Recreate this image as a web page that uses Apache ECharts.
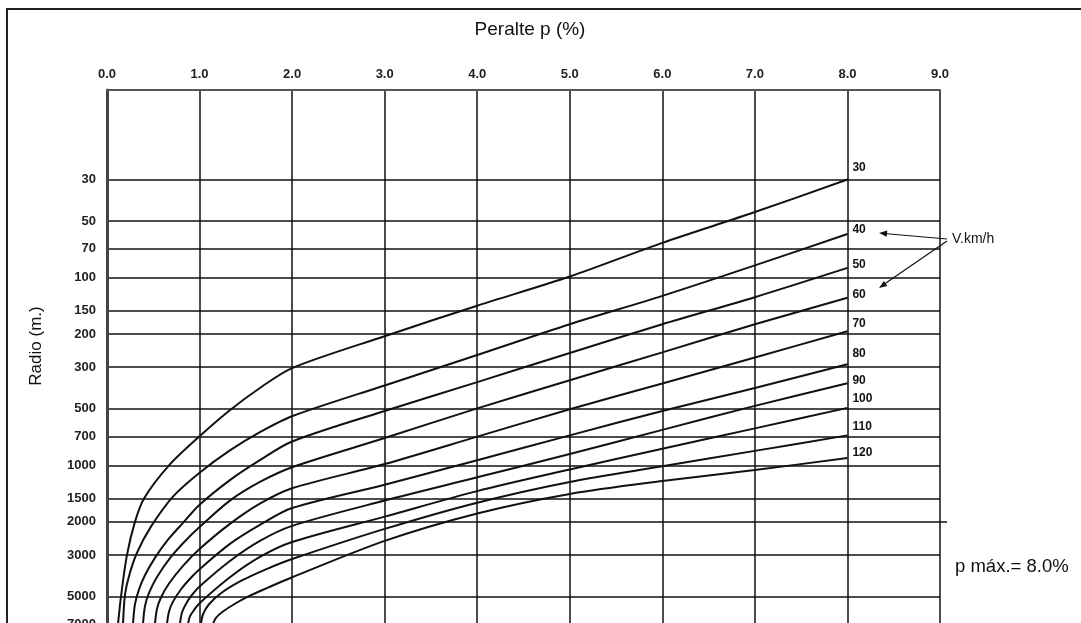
<!DOCTYPE html>
<html><head><meta charset="utf-8">
<script src="https://cdn.jsdelivr.net/npm/echarts@6/dist/echarts.min.js"></script>
<style>html,body{margin:0;padding:0;background:#fff}#c{width:1081px;height:623px}</style>
</head><body><div id="c"></div>
<script>
// Velocidades de diseño (km/h)
const speeds = ['30','40','50','60','70','80','90','100','110','120'];
// Marcas del eje de radios (m)
const radioTicks = [30,50,70,100,150,200,300,500,700,1000,1500,2000,3000,5000,7000];
// Curvas [peralte p (%), radio R (m)]
const v30  = [[0.119,7000],[0.151,5000],[0.216,3000],[0.302,2000],[0.40,1500],[0.67,1000],[1.0,700],[1.317,513],[1.652,387],[2.0,303],[3.0,205],[4.0,141],[5.0,98.6],[6.0,65.2],[7.0,44.7],[8.0,30]];
const v40  = [[0.173,7000],[0.194,4900],[0.238,3880],[0.324,2920],[0.475,2120],[0.713,1466],[1.0,1094],[1.328,832],[1.652,665],[2.0,547],[3.0,375],[4.0,258],[5.0,177],[6.0,125],[7.0,86],[8.0,58.5]];
const v50  = [[0.281,7000],[0.302,5500],[0.346,4580],[0.41,3850],[0.518,3110],[0.659,2490],[0.821,2025],[1.0,1622],[1.328,1198],[1.652,938],[2.0,746],[3.0,513],[4.0,360],[5.0,252],[6.0,177],[7.0,127],[8.0,88.7]];
const v60  = [[0.389,7000],[0.41,5630],[0.454,4780],[0.54,3930],[0.691,3075],[0.842,2535],[1.0,2130],[1.328,1540],[1.652,1225],[2.0,1023],[3.0,715],[4.0,497],[5.0,352],[6.0,250],[7.0,177],[8.0,128]];
const v70  = [[0.518,7000],[0.54,5820],[0.583,5060],[0.67,4260],[0.821,3430],[1.0,2790],[1.328,2050],[1.652,1600],[2.0,1325],[3.0,984],[4.0,703],[5.0,502],[6.0,366],[7.0,266],[8.0,193]];
const v80  = [[0.648,7000],[0.67,6000],[0.713,5320],[0.80,4570],[0.907,3970],[1.0,3575],[1.328,2620],[1.652,2075],[2.0,1687],[3.0,1267],[4.0,938],[5.0,692],[6.0,513],[7.0,387],[8.0,289]];
const v90  = [[0.788,7000],[0.81,6080],[0.853,5470],[0.918,4900],[1.0,4415],[1.328,3230],[1.652,2525],[2.0,2100],[3.0,1540],[4.0,1158],[5.0,869],[6.0,647],[7.0,482],[8.0,365]];
const v100 = [[0.875,7000],[0.896,6380],[0.94,5900],[1.0,5420],[1.328,3945],[1.652,3075],[2.0,2560],[3.0,1875],[4.0,1371],[5.0,1052],[6.0,815],[7.0,635],[8.0,494]];
const v110 = [[1.015,7000],[1.037,6220],[1.10,5510],[1.231,4800],[1.447,4130],[1.717,3580],[2.0,3155],[3.0,2180],[4.0,1580],[5.0,1225],[6.0,1011],[7.0,837],[8.0,692]];
const v120 = [[1.145,7000],[1.177,6490],[1.253,6010],[1.382,5460],[1.533,4970],[1.739,4480],[2.0,3945],[3.0,2525],[4.0,1803],[5.0,1419],[6.0,1211],[7.0,1058],[8.0,914]];
const curves = [v30,v40,v50,v60,v70,v80,v90,v100,v110,v120];

const labelDy = [-12,-4,-3,-3,-8,-11,-3,-9,-9,-5];
const FONT = "'Liberation Sans', Arial, Helvetica, sans-serif";

const chart = echarts.init(document.getElementById('c'), null, {renderer:'canvas'});
const series = speeds.map((s,i)=>({
  name: s, type:'line', data: curves[i], showSymbol:false, smooth:0.3,
  lineStyle:{color:'#111', width:2}, clip:true, silent:true,
  endLabel:{show:true, formatter:'{a}', color:'#111', fontFamily:FONT, fontSize:12, fontWeight:'bold', distance:5, offset:[0,labelDy[i]]}
}));

chart.setOption({
  animation:false,
  grid:{left:107, top:90, right:141, bottom:-1, containLabel:false, outerBoundsMode:'none'},
  xAxis:{
    type:'value', position:'top', min:0, max:9, interval:1,
    axisLine:{show:true, onZero:false, lineStyle:{color:'#555', width:2}},
    axisTick:{show:false},
    axisLabel:{formatter:v=>v.toFixed(1), fontFamily:FONT, fontWeight:'bold', fontSize:13, color:'#222', margin:9},
    splitLine:{show:true, lineStyle:{color:'#111', width:1.5}}
  },
  yAxis:{
    type:'log', logBase:10, min:10, max:7000, inverse:true,
    axisLine:{show:true, onZero:false, lineStyle:{color:'#444', width:3}},
    axisTick:{show:false, customValues:radioTicks},
    axisLabel:{customValues:radioTicks, formatter:v=>String(Math.round(v)), fontFamily:FONT, fontWeight:'bold', fontSize:13, color:'#222', margin:11},
    splitLine:{show:true, lineStyle:{color:'#111', width:1.5}}
  },
  graphic:[
    {type:'rect', silent:true, shape:{x:7,y:9,width:1300,height:1000}, style:{fill:'none', stroke:'#222', lineWidth:2}},
    {type:'text', silent:true, x:530, y:30, style:{text:'Peralte p (%)', align:'center', verticalAlign:'middle', fontFamily:FONT, fontSize:19, fill:'#111'}},
    {type:'text', silent:true, x:36, y:346, rotation:Math.PI/2, style:{text:'Radio (m.)', align:'center', verticalAlign:'middle', fontFamily:FONT, fontSize:17, fill:'#111'}},
    {type:'text', silent:true, x:952, y:239, style:{text:'V.km/h', align:'left', verticalAlign:'middle', fontFamily:FONT, fontSize:14, fill:'#111'}},
    {type:'text', silent:true, x:955, y:567, style:{text:'p máx.= 8.0%', align:'left', verticalAlign:'middle', fontFamily:FONT, fontSize:18.5, fill:'#111'}},
    {type:'line', silent:true, shape:{x1:947,y1:239,x2:884,y2:233.5}, style:{stroke:'#111', lineWidth:1.2}},
    {type:'polygon', silent:true, shape:{points:[[879,233],[887.3,230.5],[886.7,236.8]]}, style:{fill:'#111'}},
    {type:'line', silent:true, shape:{x1:947,y1:241,x2:883,y2:285}, style:{stroke:'#111', lineWidth:1.2}},
    {type:'polygon', silent:true, shape:{points:[[879,288],[887.3,286],[883.9,281]]}, style:{fill:'#111'}},
    {type:'line', silent:true, shape:{x1:940,y1:522,x2:947,y2:522}, style:{stroke:'#111', lineWidth:1.5}}
  ],
  series: series
});
</script></body></html>
